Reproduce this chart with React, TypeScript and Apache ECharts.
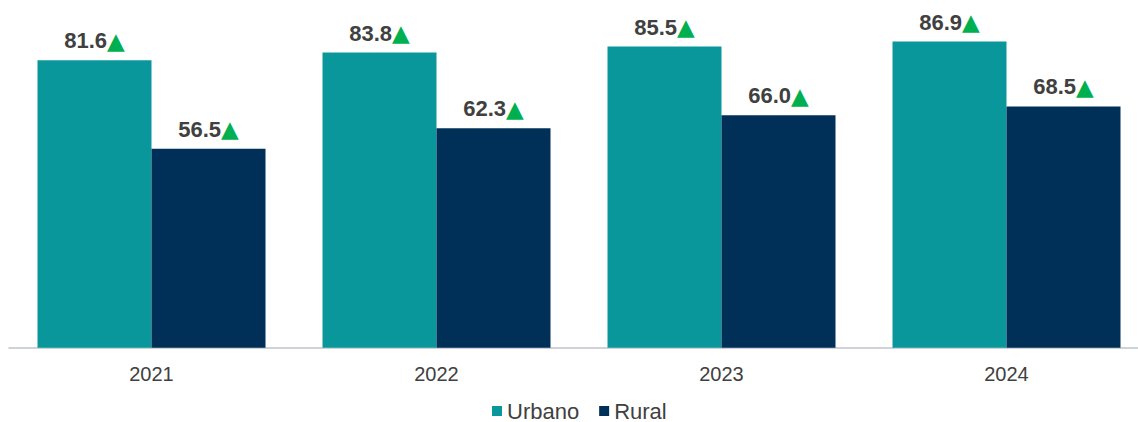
import React, { useEffect, useRef } from "react";
import * as echarts from "echarts";

const years = ["2021", "2022", "2023", "2024"];
const urbano = [81.6, 83.8, 85.5, 86.9];
const rural = [56.5, 62.3, 66.0, 68.5];

const TEAL = "#0A979B";
const NAVY = "#003057";

function makeLabel() {
  return {
    show: true,
    position: "top" as const,
    distance: 8,
    formatter: (p: any) => `{v|${Number(p.value).toFixed(1)}}{t|▲}`,
    rich: {
      v: {
        fontFamily: "Liberation Sans, Arial, sans-serif",
        fontWeight: "bold",
        fontSize: 22,
        color: "#404040",
      },
      t: {
        fontFamily: "DejaVu Sans, sans-serif",
        fontSize: 23,
        color: "#00B050",
      },
    },
  };
}

export default function App() {
  const ref = useRef<HTMLDivElement>(null);
  useEffect(() => {
    if (!ref.current) return;
    const chart = echarts.init(ref.current, undefined, { renderer: "svg" });
    chart.setOption({
      animation: false,
      textStyle: { fontFamily: "Liberation Sans, Arial, sans-serif" },
      grid: { left: 9, right: 1, top: 30.7, bottom: 74.3, containLabel: false },
      legend: {
        top: 400,
        left: 492,
        padding: 0,
        itemWidth: 10,
        itemHeight: 10,
        itemGap: 20,
        icon: "rect",
        textStyle: {
          fontSize: 22,
          lineHeight: 22,
          color: "#404040",
          fontFamily: "Liberation Sans, Arial, sans-serif",
        },
        data: ["Urbano", "Rural"],
      },
      xAxis: {
        type: "category",
        data: years,
        axisLine: { lineStyle: { color: "#BFC5CC", width: 1.5 } },
        axisTick: { show: false },
        axisLabel: { fontSize: 20, color: "#404040", margin: 16 },
      },
      yAxis: {
        type: "value",
        min: 0,
        max: 90,
        show: false,
        splitLine: { show: false },
      },
      series: [
        {
          name: "Urbano",
          type: "bar",
          data: urbano,
          itemStyle: { color: TEAL },
          barGap: "0%",
          barCategoryGap: "20%",
          label: makeLabel(),
        },
        {
          name: "Rural",
          type: "bar",
          data: rural,
          itemStyle: { color: NAVY },
          barGap: "0%",
          barCategoryGap: "20%",
          label: makeLabel(),
        },
      ],
    });
    return () => chart.dispose();
  }, []);
  return (
    <div
      ref={ref}
      style={{ position: "fixed", left: 0, top: 0, width: 1150, height: 422, background: "#fff" }}
    />
  );
}
